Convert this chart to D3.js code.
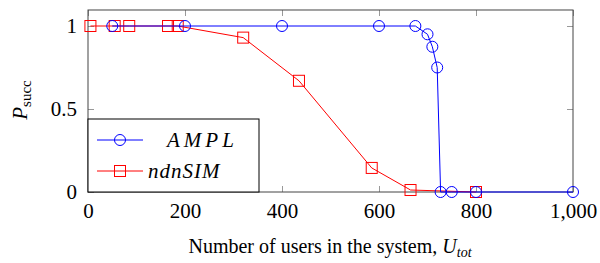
<!DOCTYPE html>
<html>
<head>
	<meta charset="utf-8">
	<script src="https://cdn.jsdelivr.net/npm/d3@7"></script>
	<style>
		svg text, svg tspan { font-family: "Liberation Serif", "Times New Roman", serif !important; }
	</style>
</head>
<body style="margin:0">
	<script>
		// data
		var amplX = [50, 200, 400, 600, 675, 700, 710, 720, 727, 750, 800, 1000];
		var amplY = [1, 1, 1, 1, 1, 0.95, 0.875, 0.75, 0, 0, 0, 0];
		var ndnX = [5, 55, 85, 165, 185, 320, 435, 585, 665, 800];
		var ndnY = [1, 1, 1, 1, 1, 0.93, 0.67, 0.145, 0.012, 0];
		var xTicks = [0, 200, 400, 600, 800, 1000];
		var yTicks = [0, 0.5, 1];

		var svgWidth = 600;
		var svgHeight = 263;
		var fontFam = '"Liberation Serif"';

		var svg = d3.select('body')
				.append('svg')
				.attr('width', svgWidth)
				.attr('height', svgHeight);

		var xScale = d3.scaleLinear().domain([0, 1000]).range([88, 573]);
		var yScale = d3.scaleLinear().domain([0, 1]).range([192, 26]);
		var yTop = 1.0964;

		var fmt = function (d) { return d === 0 ? '0' : d3.format(',')(d); };

		// axes with inward grey ticks
		var axB = svg.append('g')
			.attr('transform', 'translate(0,' + yScale(0) + ')')
			.call(d3.axisBottom(xScale).tickValues(xTicks).tickSizeInner(-6).tickSizeOuter(0).tickPadding(11).tickFormat(fmt));
		var axT = svg.append('g')
			.attr('transform', 'translate(0,' + yScale(yTop) + ')')
			.call(d3.axisTop(xScale).tickValues(xTicks).tickSizeInner(-6).tickSizeOuter(0).tickFormat(''));
		var axL = svg.append('g')
			.attr('transform', 'translate(' + xScale(0) + ',0)')
			.call(d3.axisLeft(yScale).tickValues(yTicks).tickSizeInner(-6).tickSizeOuter(0).tickPadding(11).tickFormat(d3.format('')));
		var axR = svg.append('g')
			.attr('transform', 'translate(' + xScale(1000) + ',0)')
			.call(d3.axisRight(yScale).tickValues(yTicks).tickSizeInner(-6).tickSizeOuter(0).tickFormat(''));

		[axB, axT, axL, axR].forEach(function (g) {
			g.attr('font-family', null).attr('font-size', null);
			g.select('.domain').remove();
			g.selectAll('.tick line').attr('stroke', '#999').attr('stroke-width', 1);
			g.selectAll('.tick text')
				.attr('fill', '#000')
				.style('font-family', fontFam)
				.style('font-size', '21px');
		});

		// frame
		svg.append('rect')
			.attr('x', xScale(0))
			.attr('y', yScale(yTop))
			.attr('width', xScale(1000) - xScale(0))
			.attr('height', yScale(0) - yScale(yTop))
			.attr('fill', 'none')
			.attr('stroke', '#444')
			.attr('stroke-width', 1);

		var ampl = amplX.map(function (d, i) { return [d, amplY[i]]; });
		var ndn = ndnX.map(function (d, i) { return [d, ndnY[i]]; });

		var line = d3.line()
			.x(function (d) { return xScale(d[0]); })
			.y(function (d) { return yScale(d[1]); });

		function drawSeries(data, color, marker) {
			svg.append('path')
				.datum(data)
				.attr('d', line)
				.attr('fill', 'none')
				.attr('stroke', color)
				.attr('stroke-width', 1);
			drawMarkers(data.map(function (d) { return [xScale(d[0]), yScale(d[1])]; }), color, marker);
		}

		function drawMarkers(pts, color, marker) {
			if (marker === 'circle') {
				svg.selectAll(null).data(pts).enter().append('circle')
					.attr('cx', function (d) { return d[0]; })
					.attr('cy', function (d) { return d[1]; })
					.attr('r', 5.5)
					.attr('fill', 'none')
					.attr('stroke', color)
					.attr('stroke-width', 1);
			} else {
				svg.selectAll(null).data(pts).enter().append('rect')
					.attr('x', function (d) { return d[0] - 5.5; })
					.attr('y', function (d) { return d[1] - 5.5; })
					.attr('width', 11)
					.attr('height', 11)
					.attr('fill', 'none')
					.attr('stroke', color)
					.attr('stroke-width', 1);
			}
		}

		drawSeries(ndn, '#ff0000', 'square');
		drawSeries(ampl, '#0000ff', 'circle');

		// legend
		var legend = svg.append('g');
		legend.append('rect')
			.attr('x', 88).attr('y', 119)
			.attr('width', 171).attr('height', 73)
			.attr('fill', '#fff')
			.attr('stroke', '#000')
			.attr('stroke-width', 1);

		var entries = [
			{ name: 'AMPL', color: '#0000ff', marker: 'circle', y: 140, tx: 167, spacing: '4px' },
			{ name: 'ndnSIM', color: '#ff0000', marker: 'square', y: 171, tx: 148, spacing: '1px' }
		];
		entries.forEach(function (e) {
			legend.append('line')
				.attr('x1', 97).attr('x2', 143)
				.attr('y1', e.y).attr('y2', e.y)
				.attr('stroke', e.color).attr('stroke-width', 1);
			drawMarkers([[120, e.y]], e.color, e.marker);
			legend.append('text')
				.attr('x', e.tx).attr('y', e.y + 7)
				.style('font-family', fontFam)
				.style('font-size', '21px')
				.style('font-style', 'italic')
				.style('letter-spacing', e.spacing)
				.text(e.name);
		});

		// axis labels
		var xl = svg.append('text')
			.attr('x', 330).attr('y', 253)
			.attr('text-anchor', 'middle')
			.style('font-family', fontFam)
			.style('font-size', '20px');
		xl.append('tspan').text('Number of users in the system, ');
		xl.append('tspan').style('font-style', 'italic').text('U');
		xl.append('tspan').attr('dy', 4).style('font-size', '14px').style('font-style', 'italic').text('tot');

		var yl = svg.append('text')
			.attr('transform', 'translate(27,' + 100 + ') rotate(-90)')
			.attr('text-anchor', 'middle')
			.style('font-family', fontFam)
			.style('font-size', '21px');
		yl.append('tspan').style('font-style', 'italic').text('P');
		yl.append('tspan').attr('dy', 4).style('font-size', '15px').text('succ');
	</script>
</body>
</html>
